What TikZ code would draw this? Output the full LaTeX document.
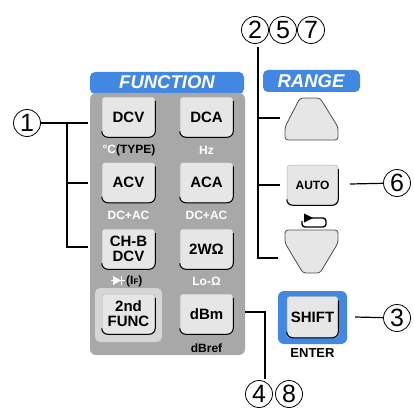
\documentclass[tikz,border=0pt]{standalone}
\usepackage{fontspec}
\setmainfont{Liberation Sans}
\usetikzlibrary{positioning,arrows.meta}
\definecolor{panelgray}{RGB}{168,168,168}
\definecolor{keyfill}{RGB}{230,230,230}
\definecolor{framegray}{RGB}{214,214,214}
\definecolor{tabblue}{RGB}{66,136,226}

\begin{document}
\begin{tikzpicture}[x=1pt, y=-1pt,
  key/.style={rectangle, rounded corners=3pt, fill=keyfill, draw=black!30, line width=0.5pt,
    minimum width=53pt, minimum height=40pt, align=center, inner sep=1pt,
    font=\fontsize{15}{15}\selectfont\bfseries},
  keyedge/.style={draw=black, line width=1pt},
  tab/.style={fill=tabblue, rounded corners=5pt},
  tabtxt/.style={text=white, font=\fontsize{18.5}{18}\selectfont\bfseries\itshape},
  sub/.style={font=\fontsize{12}{12}\selectfont\bfseries, text=white, inner sep=0pt},
  num/.style={circle, draw, line width=0.8pt, minimum size=27pt, inner sep=0pt,
    font=\fontsize{25}{25}\selectfont},
  lead/.style={line width=1.2pt},
]
\useasboundingbox (0,0) rectangle (414,409);

% FUNCTION panel
\fill[tab] (90,72) rectangle (244,94);
\node[tabtxt] (tfunc) at (167,82) {FUNCTION};
\fill[panelgray, rounded corners=6pt] (90,93) rectangle (245,355);
\fill[framegray, rounded corners=5pt] (95,288) rectangle (162,342);

\node[key] (dcv)  at (128.5,117)   {DCV};
\node[key] (dca)  at (206.5,117)   {DCA};
\node[key] (acv)  at (128.5,182.5) {ACV};
\node[key] (aca)  at (206.5,182.5) {ACA};
\node[key] (chb)  at (128.5,249)   {CH-B\\DCV};
\node[key] (twow) at (206.5,249)   {2WΩ};
\node[key] (func) at (128.5,314)   {2nd\\FUNC};
\node[key] (dbm)  at (206.5,314)   {dBm};

% labels under the keys
\node[sub] (ltype) at (129,150) {°C\textcolor{black}{(TYPE)}};
\node[sub] (lhz)   at (206.5,150) {Hz};
\node[sub] (lacv)  at (128.5,215) {DC+AC};
\node[sub] (laca)  at (206.5,215) {DC+AC};
\fill[white] (113,276) -- (121,280.5) -- (113,285) -- cycle;
\draw[white, line width=1.2pt] (121.5,276) -- (121.5,285);
\draw[white, line width=1pt] (111,280.5) -- (125,280.5);
\node[sub, text=black, anchor=west] (lif) at (126,281) {(I{\fontsize{8}{8}\selectfont F})};
\node[sub] (llo)   at (206.5,281) {Lo-Ω};
\node[sub, text=black] (ldb) at (206.5,348) {dBref};

% RANGE keys
\fill[tab] (263,70) rectangle (360,92);
\node[tabtxt] (trange) at (311,81) {RANGE};
\draw[fill=keyfill, draw=black!70, line width=0.8pt, rounded corners=3pt]
  (300,98) -- (320,98) -- (338,127) -- (338,140) -- (285,140) -- (285,127) -- cycle;
\node[key, minimum width=51pt, font=\fontsize{12}{12}\selectfont\bfseries] (auto) at (312.5,185) {AUTO};
\draw[line width=1.4pt, rounded corners=3pt] (310,218) -- (326,218) -- (326,227) -- (302,227) -- (302,221);
\fill (313,218) -- (304,213.5) -- (304,222.5) -- cycle;
\draw[fill=keyfill, draw=black!70, line width=0.8pt, rounded corners=3pt]
  (285,230) -- (338,230) -- (338,243) -- (320,273) -- (303,273) -- (285,243) -- cycle;

% SHIFT key
\fill[tabblue, rounded corners=6pt] (278,291) rectangle (347,344);
\node[key, minimum width=51pt, minimum height=41pt] (shift) at (312.5,317) {SHIFT};
\node[font=\fontsize{13}{13}\selectfont\bfseries, inner sep=0pt] (enter) at (312.5,353) {ENTER};

% key bottom shadows
\foreach \k in {dcv,dca,acv,aca,chb,twow,func,dbm,auto,shift}
  \draw[keyedge] ([yshift=6pt]\k.south west) to[out=-90,in=180] ([xshift=6pt]\k.south west)
    -- ([xshift=-6pt]\k.south east) to[out=0,in=-90] ([yshift=6pt]\k.south east)
    -- ([yshift=-4pt]\k.north east);

% numbers
\node[num] (c1) at (27,123)  {1};
\node[num] (c2) at (255,30)  {2};
\node[num] (c5) at (283,30)  {5};
\node[num] (c7) at (311,30)  {7};
\node[num] (c6) at (397,183) {6};
\node[num] (c3) at (397,318) {3};
\node[num] (c4) at (259,394) {4};
\node[num] (c8) at (289,394) {8};

% leads
\coordinate (f1) at (88,123);
\coordinate (f2) at (88,183);
\coordinate (f3) at (88,247);
\coordinate (j1) at (67,123);
\draw[lead] (c1) -- (f1);
\draw[lead] (j1) |- (f3);
\draw[lead] (j1 |- f2) -- (f2);

\coordinate (rtop) at (258,47);
\coordinate (r1) at (280,118);
\coordinate (r2) at (280,185);
\coordinate (r3) at (278,258);
\draw[lead] (rtop) |- (r3);
\draw[lead] (rtop |- r1) -- (r1);
\draw[lead] (rtop |- r2) -- (r2);

\coordinate (a6) at (350,184);
\draw[lead] (a6) -- (c6);
\coordinate (s3) at (355,317);
\draw[lead] (s3) -- (c3);
\coordinate (d48) at (245,312);
\coordinate (e48) at (265,379);
\draw[lead] (d48) -| (e48);
\end{tikzpicture}
\end{document}
